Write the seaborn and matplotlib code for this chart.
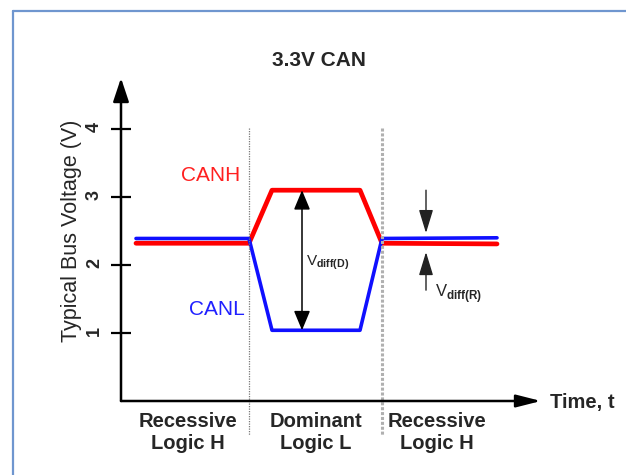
import pandas as pd
import matplotlib.pyplot as plt
import seaborn as sns
from matplotlib.lines import Line2D

# bus levels (time in arbitrary units, volts)
time_pts = [0.75, 6.4, 7.55, 11.95, 13.05, 18.8]
canh_v = [2.32, 2.32, 3.10, 3.10, 2.32, 2.31]
canl_v = [2.39, 2.39, 1.04, 1.04, 2.39, 2.40]

y_ticks = [1, 2, 3, 4]
bit_edges = [6.4, 13.05]
bit_labels = ['Recessive\nLogic H', 'Dominant\nLogic L', 'Recessive\nLogic H']
bit_centers = [3.35, 9.75, 15.8]

df = pd.DataFrame({
    'Time': time_pts + time_pts,
    'Voltage': canh_v + canl_v,
    'Signal': ['CANH'] * len(time_pts) + ['CANL'] * len(time_pts),
})

sns.set_theme(style='white')
plt.rcParams['font.family'] = ['Liberation Sans', 'DejaVu Sans']
plt.rcParams['mathtext.fontset'] = 'custom'
plt.rcParams['mathtext.rm'] = 'Liberation Sans'
plt.rcParams['mathtext.bf'] = 'Liberation Sans:bold'

fig = plt.figure(figsize=(6.26, 4.75), dpi=100)
fig.patch.set_facecolor('white')
ax = fig.add_axes([121 / 626, 74 / 475, 420 / 626, 323 / 475])
ax.set_xlim(0, 21)
ax.set_ylim(0, 4.75)
ax.patch.set_alpha(0)
for s in ax.spines.values():
    s.set_visible(False)

# red below, blue on top
sns.lineplot(data=df[df['Signal'] == 'CANH'], x='Time', y='Voltage', color='#ff0000',
             lw=3.4, estimator=None, ax=ax, legend=False)
sns.lineplot(data=df[df['Signal'] == 'CANL'], x='Time', y='Voltage', color='#1010ff',
             lw=2.6, estimator=None, ax=ax, legend=False)

# bit boundaries
ax.plot([bit_edges[0]] * 2, [4.01, -0.5], color='#777777', lw=0.9, ls=(0, (1, 1)), clip_on=False)
ax.plot([bit_edges[1]] * 2, [4.01, -0.5], color='#b0b0b0', lw=2.2, ls=(0, (1, 0.6)), clip_on=False)

# axes with arrows
ax.annotate('', xy=(0, 4.75), xytext=(0, 0), annotation_clip=False,
            arrowprops=dict(arrowstyle='-|>,head_length=0.72,head_width=0.24', mutation_scale=20,
                            color='black', lw=1.8, shrinkA=0, shrinkB=0))
ax.annotate('', xy=(21, 0), xytext=(0, 0), annotation_clip=False,
            arrowprops=dict(arrowstyle='-|>,head_length=0.75,head_width=0.19', mutation_scale=20,
                            color='black', lw=1.8, shrinkA=0, shrinkB=0))

ax.set_xticks([])
ax.set_yticks(y_ticks)
ax.set_yticklabels([str(t) for t in y_ticks], fontweight='bold')
ax.tick_params(axis='y', direction='inout', length=14, width=1.6, pad=6,
               labelsize=13, labelrotation=90, color='black', left=True)
ax.set_xlabel('')
ax.set_ylabel('Typical Bus Voltage (V)', fontsize=15.5)
ax.yaxis.set_label_coords(-0.093, 0.526)

# signal labels
ax.text(5.95, 3.32, 'CANH', color='#ff2020', fontsize=15, ha='right', va='center')
ax.text(6.2, 1.34, 'CANL', color='#2020ff', fontsize=15, ha='right', va='center')

for x, lab in zip(bit_centers, bit_labels):
    ax.text(x, -0.456, lab, ha='center', va='center', fontsize=14.5, fontweight='bold',
            linespacing=1.2, clip_on=False)
ax.text(21.45, -0.02, 'Time, t', ha='left', va='center', fontsize=14.5, fontweight='bold',
        clip_on=False)

# differential voltage arrows
ax.annotate('', xy=(9.05, 3.10), xytext=(9.05, 1.04),
            arrowprops=dict(arrowstyle='<|-|>,head_length=0.6,head_width=0.25', mutation_scale=20,
                            color='black', lw=1.1, shrinkA=0, shrinkB=0))
ax.text(9.25, 1.99, r'V$_{\mathbf{diff(D)}}$', fontsize=11, ha='left', va='baseline')

ax.annotate('', xy=(15.25, 2.47), xytext=(15.25, 3.10),
            arrowprops=dict(arrowstyle='-|>,head_length=0.72,head_width=0.22', mutation_scale=20,
                            color='#222222', lw=1.0, shrinkA=0, shrinkB=0))
ax.annotate('', xy=(15.25, 2.19), xytext=(15.25, 1.63),
            arrowprops=dict(arrowstyle='-|>,head_length=0.72,head_width=0.22', mutation_scale=20,
                            color='#222222', lw=1.0, shrinkA=0, shrinkB=0))
ax.text(15.7, 1.53, r'V$_{\mathbf{diff(R)}}$', fontsize=12, ha='left', va='baseline')

fig.text(319 / 626, 1 - 60 / 475, '3.3V CAN', ha='center', va='center', fontsize=15,
         fontweight='bold')

# frame around the figure (left and top edges only are visible)
fx, fy = 13 / 626, 1 - 11 / 475
fig.add_artist(Line2D([fx, fx], [0, fy], transform=fig.transFigure, color='#6f96cf', lw=1.6))
fig.add_artist(Line2D([fx, 1], [fy, fy], transform=fig.transFigure, color='#6f96cf', lw=1.6))

plt.savefig('out.png', dpi=100)
